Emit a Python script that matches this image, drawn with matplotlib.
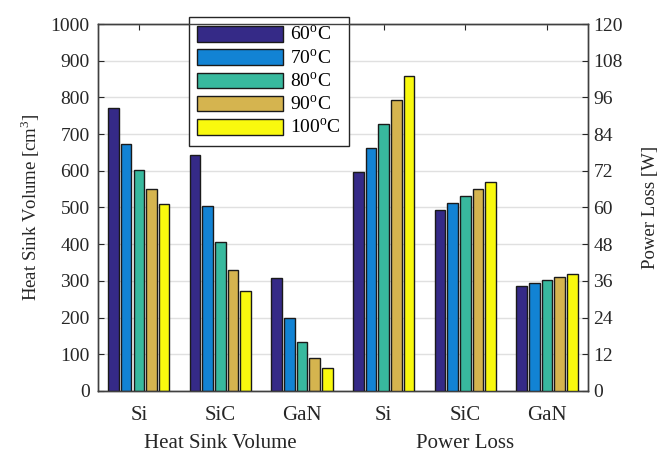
import matplotlib.pyplot as plt
import numpy as np

# Datos
groups = ['Si', 'SiC', 'GaN', 'Si', 'SiC', 'GaN']
temps = ['60$^{\\mathrm{o}}$C', '70$^{\\mathrm{o}}$C', '80$^{\\mathrm{o}}$C',
         '90$^{\\mathrm{o}}$C', '100$^{\\mathrm{o}}$C']
# volumen del disipador [cm^3] para Si, SiC, GaN (filas = temperatura)
volume = [[772, 643, 309],
          [672, 505, 200],
          [602, 405, 133],
          [550, 330, 90],
          [510, 272, 63]]
# pérdidas [W] para Si, SiC, GaN
loss = [[71.7, 59.1, 34.2],
        [79.4, 61.4, 35.2],
        [87.3, 63.7, 36.3],
        [95.1, 65.9, 37.4],
        [102.9, 68.3, 38.3]]
colors = ['#352a87', '#1283d4', '#38b99e', '#d5b44f', '#f9f90e']

plt.rcParams['font.family'] = 'Liberation Serif'
plt.rcParams['mathtext.fontset'] = 'custom'
plt.rcParams['mathtext.rm'] = 'Liberation Serif'
txt = '#262626'

fig = plt.figure(figsize=(6.59, 4.53), dpi=100)
ax = fig.add_axes([0.1487, 0.137, 0.7433, 0.81])
ax2 = ax.twinx()

step = 0.155
width = 0.13
x1 = np.arange(1, 4)
x2 = np.arange(4, 7)
for i in range(5):
    off = (i - 2) * step
    ax.bar(x1 + off, volume[i], width, color=colors[i], edgecolor='#1a1a1a',
           linewidth=1.0, label=temps[i], zorder=3)
    ax2.bar(x2 + off, loss[i], width, color=colors[i], edgecolor='#1a1a1a',
            linewidth=1.0, zorder=3)

ax.set_xlim(0.5, 6.5)
ax.set_ylim(0, 1000)
ax2.set_ylim(0, 120)
ax.set_yticks(np.arange(0, 1001, 100))
ax2.set_yticks(np.arange(0, 121, 12))
ax.set_xticks(np.arange(1, 7))
ax.set_xticklabels(groups)
ax.grid(axis='y', color='#e0e0e0', linewidth=1.0, zorder=0)
ax.set_axisbelow(True)

for a in (ax, ax2):
    a.tick_params(direction='in', labelsize=14, colors=txt, length=4)
    for s in a.spines.values():
        s.set_color('#404040')
        s.set_linewidth(1.0)
ax.tick_params(axis='y', pad=6)
ax2.tick_params(axis='y', pad=4)
ax.tick_params(axis='x', top=True, pad=11, labelsize=15)

ax.set_ylabel('Heat Sink Volume [cm$^3$]', fontsize=13.5, color=txt, labelpad=6)
ax2.set_ylabel('Power Loss [W]', fontsize=13.5, color=txt, labelpad=14)

ax.text(2, -0.144, 'Heat Sink Volume', transform=ax.get_xaxis_transform(),
        ha='center', va='center', fontsize=15, color=txt)
ax.text(5, -0.144, 'Power Loss', transform=ax.get_xaxis_transform(),
        ha='center', va='center', fontsize=15, color=txt)

leg = ax.legend(loc='upper left', bbox_to_anchor=(189 / 659, 1 - 17 / 453),
                bbox_transform=fig.transFigure, fontsize=14, handlelength=4.4,
                handleheight=0.85, labelspacing=0.2, borderpad=0.42,
                borderaxespad=0, handletextpad=0.4, fancybox=False,
                framealpha=1, edgecolor='#262626')
leg.get_frame().set_linewidth(1.0)
leg.set_zorder(10)

fig.savefig('out.png', dpi=100)
